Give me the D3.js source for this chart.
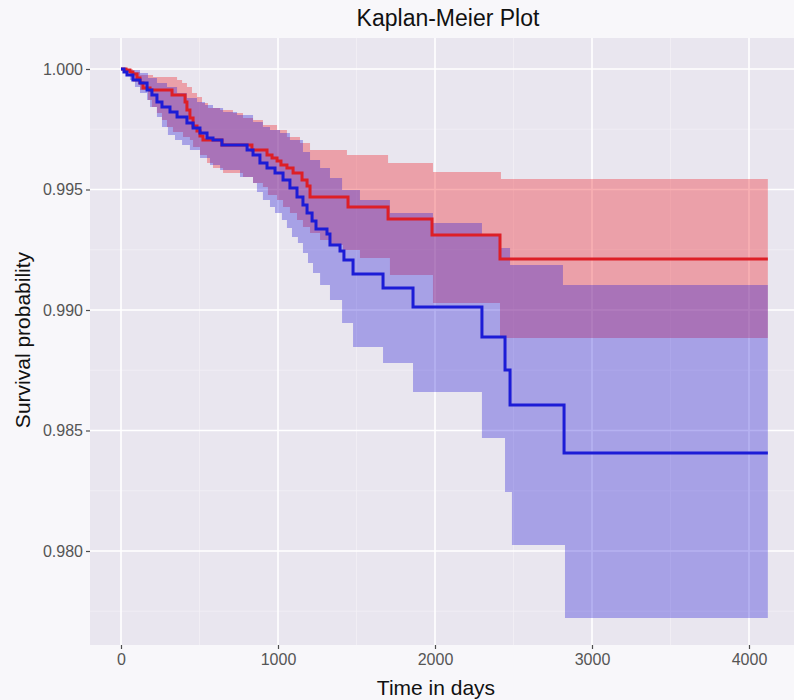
<!DOCTYPE html>
<html><head><meta charset="utf-8">
<script src="https://cdn.jsdelivr.net/npm/d3@7"></script>
<style>body{margin:0;background:#f8f7fa;} svg{display:block}</style>
</head><body><svg id="c" width="794" height="700"></svg>
<script>
// ---------- data ----------
const xTicks = [0, 1000, 2000, 3000, 4000];
const yTicks = [0.980, 0.985, 0.990, 0.995, 1.000];
const xMinor = [500, 1500, 2500, 3500];
const yMinor = [0.9775, 0.9825, 0.9875, 0.9925, 0.9975];
const endTime = 4120;

// red group: KM estimate
const redTime = [0,32,57,76,102,121,140,185,325,408,420,439,459,484,503,522,643,834,930,962,994,1019,1057,1096,1153,1185,1204,1446,1701,1981,2414];
const redSurv = [1.00000,0.99996,0.99988,0.99979,0.99963,0.99942,0.99921,0.99913,0.99892,0.99863,0.99830,0.99797,0.99763,0.99743,0.99722,0.99705,0.99685,0.99664,0.99643,0.99631,0.99618,0.99602,0.99589,0.99568,0.99539,0.99515,0.99469,0.99427,0.99378,0.99311,0.99212];
// red group: upper confidence limit
const redUpTime = [0,76,121,204,357,389,420,452,484,516,554,631,713,777,841,904,994,1057,1140,1204,1439,1701,1987,2420];
const redUp = [1.00000,0.99988,0.99975,0.99967,0.99954,0.99942,0.99925,0.99900,0.99884,0.99859,0.99838,0.99830,0.99817,0.99797,0.99788,0.99768,0.99747,0.99718,0.99693,0.99664,0.99643,0.99610,0.99573,0.99544];
// red group: lower confidence limit
const redLoTime = [0,25,76,121,172,197,229,261,293,331,395,439,459,503,548,586,650,777,841,904,936,994,1032,1076,1121,1159,1204,1268,1331,1414,1522,1713,1987,2414];
const redLo = [1.00000,0.99983,0.99946,0.99913,0.99871,0.99842,0.99817,0.99788,0.99759,0.99739,0.99718,0.99705,0.99676,0.99643,0.99610,0.99589,0.99568,0.99552,0.99527,0.99510,0.99477,0.99456,0.99427,0.99402,0.99373,0.99344,0.99320,0.99290,0.99270,0.99249,0.99216,0.99145,0.99029,0.98884];

// blue group: KM estimate
const blueTime = [0,19,38,76,121,166,197,229,261,312,357,420,459,503,548,586,643,803,841,885,930,981,1032,1076,1121,1159,1185,1217,1242,1312,1331,1395,1420,1478,1669,1860,2299,2446,2478,2822];
const blueSurv = [1.00000,0.99988,0.99975,0.99954,0.99942,0.99913,0.99892,0.99863,0.99842,0.99822,0.99801,0.99776,0.99755,0.99734,0.99714,0.99705,0.99685,0.99664,0.99643,0.99610,0.99589,0.99568,0.99539,0.99506,0.99469,0.99436,0.99402,0.99369,0.99336,0.99315,0.99270,0.99245,0.99207,0.99149,0.99091,0.99012,0.98888,0.98751,0.98606,0.98407];
// blue group: upper confidence limit
const blueUpTime = [0,57,121,172,229,293,357,420,484,535,586,650,739,841,904,949,1013,1076,1159,1204,1268,1331,1408,1522,1713,1987,2299,2414,2478,2815];
const blueUp = [1.00000,0.99996,0.99983,0.99963,0.99942,0.99925,0.99900,0.99880,0.99863,0.99851,0.99838,0.99822,0.99809,0.99780,0.99759,0.99747,0.99734,0.99705,0.99656,0.99622,0.99589,0.99548,0.99498,0.99456,0.99402,0.99361,0.99311,0.99257,0.99187,0.99104];
// blue group: lower confidence limit
const blueLoTime = [0,13,57,89,121,166,185,229,261,299,344,389,439,503,567,631,758,841,866,904,949,981,1025,1057,1089,1127,1159,1191,1223,1268,1331,1408,1478,1669,1860,2299,2446,2490,2828];
const blueLo = [1.00000,0.99988,0.99954,0.99925,0.99900,0.99871,0.99842,0.99801,0.99759,0.99726,0.99705,0.99685,0.99664,0.99631,0.99602,0.99581,0.99552,0.99527,0.99490,0.99456,0.99427,0.99402,0.99373,0.99340,0.99303,0.99278,0.99237,0.99195,0.99154,0.99104,0.99041,0.98946,0.98846,0.98780,0.98660,0.98469,0.98245,0.98025,0.97722];

// ---------- layout ----------
const W = 794, H = 700;
const panel = {left: 90, right: 800, top: 38, bottom: 645};
const x = d3.scaleLinear().domain([0, 4000]).range([121, 749]);
const y = d3.scaleLinear().domain([0.980, 1.000]).range([551, 69]);

const svg = d3.select('#c');
svg.append('rect').attr('width', W).attr('height', H).attr('fill', '#f8f7fa');

svg.append('defs').append('clipPath').attr('id', 'clip')
  .append('rect').attr('x', panel.left).attr('y', panel.top)
  .attr('width', panel.right - panel.left).attr('height', panel.bottom - panel.top);

svg.append('rect').attr('x', panel.left).attr('y', panel.top)
  .attr('width', panel.right - panel.left).attr('height', panel.bottom - panel.top)
  .attr('fill', '#e9e6ef');

const grid = svg.append('g').attr('clip-path', 'url(#clip)');
grid.selectAll('.ym').data(yMinor).join('line')
  .attr('x1', panel.left).attr('x2', panel.right)
  .attr('y1', d => y(d)).attr('y2', d => y(d))
  .attr('stroke', '#f2f0f5').attr('stroke-width', 0.8);
grid.selectAll('.xm').data(xMinor).join('line')
  .attr('y1', panel.top).attr('y2', panel.bottom)
  .attr('x1', d => x(d)).attr('x2', d => x(d))
  .attr('stroke', '#f2f0f5').attr('stroke-width', 0.8);
grid.selectAll('.yM').data(yTicks).join('line')
  .attr('x1', panel.left).attr('x2', panel.right)
  .attr('y1', d => y(d)).attr('y2', d => y(d))
  .attr('stroke', '#ffffff').attr('stroke-width', 1.6);
grid.selectAll('.xM').data(xTicks).join('line')
  .attr('y1', panel.top).attr('y2', panel.bottom)
  .attr('x1', d => x(d)).attr('x2', d => x(d))
  .attr('stroke', '#ffffff').attr('stroke-width', 1.6);

function stepAt(times, vals, t) {
  let v = vals[0];
  for (let i = 0; i < times.length; i++) if (times[i] <= t) v = vals[i];
  return v;
}
function bandData(tUp, vUp, tLo, vLo) {
  const ts = Array.from(new Set([...tUp, ...tLo, endTime])).sort((a, b) => a - b);
  return ts.map(t => ({t, hi: stepAt(tUp, vUp, t), lo: stepAt(tLo, vLo, t)}));
}
function lineData(ts, vs) {
  const d = ts.map((t, i) => ({t, s: vs[i]}));
  d.push({t: endTime, s: vs[vs.length - 1]});
  return d;
}

const area = d3.area().curve(d3.curveStepAfter)
  .x(d => x(d.t)).y0(d => y(d.lo)).y1(d => y(d.hi));
const line = d3.line().curve(d3.curveStepAfter)
  .x(d => x(d.t)).y(d => y(d.s));

const plot = svg.append('g').attr('clip-path', 'url(#clip)');
plot.append('path').datum(bandData(redUpTime, redUp, redLoTime, redLo))
  .attr('d', area).attr('fill', 'rgb(240,40,50)').attr('fill-opacity', 0.37);
plot.append('path').datum(bandData(blueUpTime, blueUp, blueLoTime, blueLo))
  .attr('d', area).attr('fill', 'rgb(40,30,215)').attr('fill-opacity', 0.34);
plot.append('path').datum(lineData(redTime, redSurv))
  .attr('d', line).attr('fill', 'none').attr('stroke', '#dd1f26').attr('stroke-width', 3);
plot.append('path').datum(lineData(blueTime, blueSurv))
  .attr('d', line).attr('fill', 'none').attr('stroke', '#1c1cd6').attr('stroke-width', 3);

// axes
const font = '"Liberation Sans", Arial, sans-serif';
const yAxis = svg.append('g').attr('transform', `translate(${panel.left},0)`)
  .call(d3.axisLeft(y).tickValues(yTicks).tickFormat(d3.format('.3f')).tickSize(4).tickPadding(3));
const xAxis = svg.append('g').attr('transform', `translate(0,${panel.bottom})`)
  .call(d3.axisBottom(x).tickValues(xTicks).tickFormat(d3.format('d')).tickSize(4).tickPadding(5));
[yAxis, xAxis].forEach(a => {
  a.select('.domain').remove();
  a.selectAll('line').attr('stroke', '#4d4d4d').attr('stroke-width', 1.2);
  a.selectAll('text').attr('fill', '#555555').style('font-family', font).style('font-size', '16px');
});

svg.append('text').attr('x', 448).attr('y', 26).attr('text-anchor', 'middle')
  .style('font-family', font).style('font-size', '23px').attr('fill', '#111')
  .text('Kaplan-Meier Plot');
svg.append('text').attr('x', 436).attr('y', 695).attr('text-anchor', 'middle')
  .style('font-family', font).style('font-size', '21px').attr('fill', '#111')
  .text('Time in days');
svg.append('text').attr('transform', 'translate(30,340) rotate(-90)').attr('text-anchor', 'middle')
  .style('font-family', font).style('font-size', '21px').attr('fill', '#111')
  .text('Survival probability');
</script></body></html>
